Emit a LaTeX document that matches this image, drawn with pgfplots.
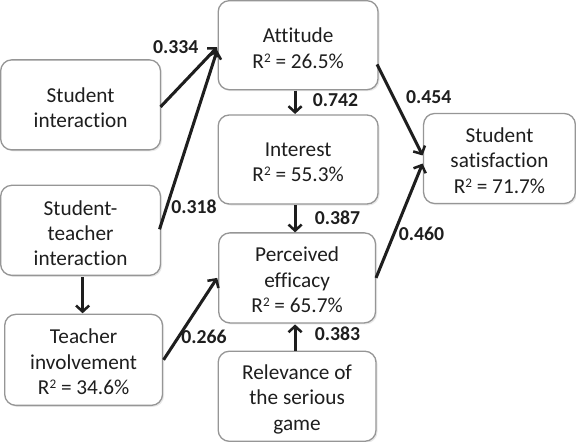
\documentclass[border=0pt]{standalone}
\usepackage{pgfplots}
\pgfplotsset{compat=1.18}
\usepackage{fontspec}
\setmainfont{Carlito}[Ligatures=NoCommon]
\usetikzlibrary{arrows.meta,shadows}
\definecolor{txt}{RGB}{30,30,30}
\definecolor{bord}{RGB}{150,150,150}
\newcommand{\Rsq}{R\raisebox{6pt}{\fontsize{13}{13}\selectfont 2}}
\begin{document}
\begin{tikzpicture}[
  box/.style={draw=bord, line width=1.3pt, rounded corners=11pt, fill=white, inner sep=0pt,
    drop shadow={opacity=0.18, shadow xshift=1.5pt, shadow yshift=-1.5pt}},
  btxt/.style={align=center, text=txt, font=\fontsize{21}{25}\selectfont, inner sep=0pt},
  lab/.style={font=\fontsize{19.5}{22}\selectfont\bfseries, text=txt, inner sep=0pt},
  arr/.style={line width=3pt, color=txt, no markers, -{Straight Barb[length=6pt,width=13pt,line width=2.5pt]}},
]
\begin{axis}[width=576pt, height=444pt, scale only axis,
  xmin=0, xmax=576, ymin=0, ymax=444, y dir=reverse, hide axis, clip=false]
% boxes
\node[box, minimum width=158pt, minimum height=89pt] at (axis cs:86,110) {};
\node[box, minimum width=158pt, minimum height=89pt] at (axis cs:86,234) {};
\node[box, minimum width=156pt, minimum height=90pt] at (axis cs:89,362) {};
\node[box, minimum width=158pt, minimum height=88pt] at (axis cs:301,51) {};
\node[box, minimum width=158pt, minimum height=88pt] at (axis cs:301,164) {};
\node[box, minimum width=155pt, minimum height=89pt] at (axis cs:300,281) {};
\node[box, minimum width=156pt, minimum height=89pt] at (axis cs:300,398) {};
\node[box, minimum width=150pt, minimum height=89pt] at (axis cs:500,163) {};
% box texts
\node[btxt] at (axis cs:86,113) {Student\\interaction};
\node[btxt] at (axis cs:86,237) {Student-\\teacher\\interaction};
\node[btxt] at (axis cs:89,364) {Teacher\\involvement\\\Rsq{} = 34.6\%};
\node[btxt] at (axis cs:301,54) {Attitude\\\Rsq{} = 26.5\%};
\node[btxt] at (axis cs:301,167) {Interest\\\Rsq{} = 55.3\%};
\node[btxt] at (axis cs:300,283) {Perceived\\efficacy\\\Rsq{} = 65.7\%};
\node[btxt] at (axis cs:300,401) {Relevance of\\the serious\\game};
\node[btxt] at (axis cs:500,165) {Student\\satisfaction\\\Rsq{} = 71.7\%};
% arrows
\addplot[arr] coordinates {(165,112) (221,53)};
\addplot[arr] coordinates {(164,233) (221,56)};
\addplot[arr] coordinates {(88,280) (88,316)};
\addplot[arr] coordinates {(168,362) (221,281)};
\addplot[arr] coordinates {(298,96) (298,119)};
\addplot[arr] coordinates {(298,209) (298,236)};
\addplot[arr] coordinates {(298,353) (298,327)};
\addplot[arr] coordinates {(379,70) (424,160)};
\addplot[arr] coordinates {(378,281) (424,168)};
% labels
\node[lab] at (axis cs:180,53) {0.334};
\node[lab] at (axis cs:198,211) {0.318};
\node[lab] at (axis cs:208,339) {0.266};
\node[lab] at (axis cs:338,105) {0.742};
\node[lab] at (axis cs:340,222) {0.387};
\node[lab] at (axis cs:340,336) {0.383};
\node[lab] at (axis cs:430,102) {0.454};
\node[lab] at (axis cs:423,237) {0.460};
\end{axis}
\end{tikzpicture}
\end{document}
